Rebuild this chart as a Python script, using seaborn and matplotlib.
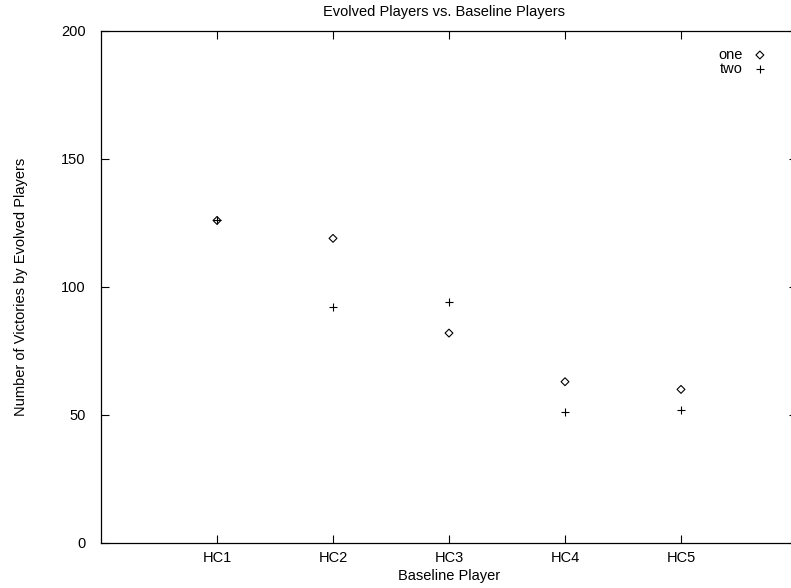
import matplotlib
matplotlib.use("Agg")
import matplotlib.pyplot as plt
import seaborn as sns
import pandas as pd

categories = ["HC1", "HC2", "HC3", "HC4", "HC5"]
one_values = [126, 119, 82, 63, 60]
two_values = [126, 92, 94, 51, 52]
y_ticks = [0, 50, 100, 150, 200]

sns.set_theme(style="ticks")
plt.rcParams['font.family'] = ['Liberation Sans', 'DejaVu Sans']
plt.rcParams['font.size'] = 10.5
plt.rcParams['text.color'] = 'black'
plt.rcParams['axes.labelcolor'] = 'black'

df = pd.DataFrame({
    "pos": list(range(1, len(categories) + 1)) * 2,
    "value": one_values + two_values,
    "series": ["one"] * len(categories) + ["two"] * len(categories),
})

fig = plt.figure(figsize=(7.91, 5.88), dpi=100)
W, H = 791, 588
left, right, top, bottom = 101, 797, 31, 543
aw, ah = right - left, bottom - top
ax = fig.add_axes([left / W, 1 - bottom / H, aw / W, ah / H])

sns.scatterplot(data=df[df.series == "one"], x="pos", y="value", marker="D",
                s=16, facecolor="none", edgecolor="black", linewidth=0.8,
                ax=ax, label="one", legend=False)
sns.scatterplot(data=df[df.series == "two"], x="pos", y="value", marker="+",
                s=40, color="black", linewidth=0.8, ax=ax, label="two", legend=False)

ax.set_xlim(0, 6)
ax.set_ylim(0, 200)
ax.set_xticks(range(1, len(categories) + 1))
ax.set_xticklabels(categories)
ax.set_yticks(y_ticks)
ax.tick_params(direction="in", top=True, right=True, length=6, width=0.8,
               colors="black", labelcolor="black", labelsize=10.5)
ax.tick_params(axis="y", pad=11)
ax.tick_params(axis="x", pad=6)
for s in ax.spines.values():
    s.set_color("black")
    s.set_linewidth(0.9)
ax.set_xlabel("Baseline Player", fontsize=10.5, color="black")
ax.set_ylabel("Number of Victories by Evolved Players", fontsize=10.5, color="black")
ax.xaxis.set_label_coords((449 - left) / aw, -(576 - bottom) / ah)
ax.xaxis.label.set_va("center")
ax.yaxis.set_label_coords((21 - left) / aw, 0.5)
ax.yaxis.label.set_va("center")
fig.text(444 / W, 1 - 12 / H, "Evolved Players vs. Baseline Players",
         ha="center", va="center", fontsize=10.5, color="black")

leg = ax.legend(loc="upper right", bbox_to_anchor=((773 - left) / aw, 1 - 11 / ah),
                frameon=False, markerfirst=False, handletextpad=0.7,
                labelspacing=0.0, fontsize=10.5, handlelength=1.0, borderaxespad=0)
for t in leg.get_texts():
    t.set_color("black")
fig.savefig("out.png", dpi=100)
